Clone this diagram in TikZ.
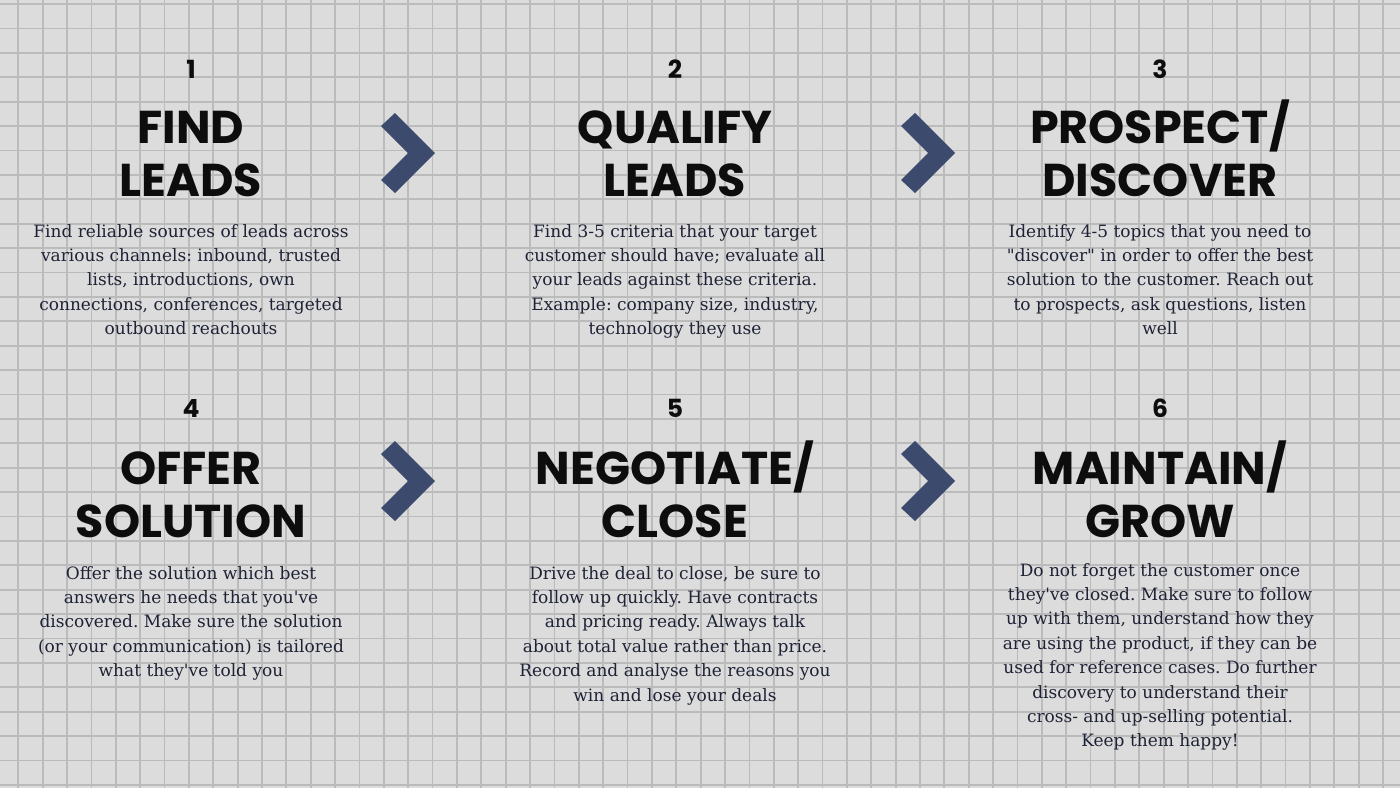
\documentclass[tikz,border=0pt]{standalone}
\usepackage{fontspec}
\setmainfont{DejaVu Serif}[Ligatures=TeXOff]
\newfontfamily\titlefont{Poppins}
\definecolor{bgcol}{HTML}{DCDCDC}
\definecolor{gridcol}{HTML}{BBBBBB}
\definecolor{chevcol}{HTML}{3C4A6E}
\definecolor{titlecol}{HTML}{0D0D0D}
\definecolor{bodycol}{HTML}{1E2235}
\frenchspacing
\begin{document}
\begin{tikzpicture}[x=1pt,y=-1pt,
  gridline/.style={draw=gridcol,line width=1.8pt},
  num/.style={font=\titlefont\bfseries\fontsize{25}{25}\selectfont,text=titlecol,anchor=base,inner sep=0pt},
  ttl/.style={font=\titlefont\bfseries\fontsize{46}{53}\selectfont,text=titlecol,anchor=base,align=center,inner sep=0pt},
  body/.style={font=\frenchspacing\fontsize{17}{24.4}\selectfont,text=bodycol,anchor=base,align=center,inner sep=0pt},
  chev/.style={fill=chevcol}]
\useasboundingbox (0,0) rectangle (1400,788);
\fill[bgcol] (0,0) rectangle (1400,788);
\foreach \i in {0,...,56} \draw[gridline] ({18.3+24.37*\i},0) -- ({18.3+24.37*\i},788);
\foreach \j in {0,...,32} \draw[gridline] (0,{4+24.4*\j}) -- (1400,{4+24.4*\j});
% chevrons
\foreach \cx/\cy in {435/153, 955/153, 435/481, 955/481}
  \fill[chev] (\cx,\cy) -- ++(-40,40) -- ++(-14,-13) -- ++(27,-27) -- ++(-27,-27) -- ++(14,-13) -- cycle;
% row 1 (anchor base = baseline of last line)
\node[num] (n1) at (191,78) {1};
\node[ttl] (t1) at (191,196) {FIND\\LEADS};
\node[body] (b1) at (191,334.6) {Find reliable sources of leads across\\various channels: inbound, trusted\\lists, introductions, own\\connections, conferences, targeted\\outbound reachouts};
\node[num] (n2) at (675,78) {2};
\node[ttl] (t2) at (675,196) {QUALIFY\\LEADS};
\node[body] (b2) at (675,334.6) {Find 3-5 criteria that your target\\customer should have; evaluate all\\your leads against these criteria.\\Example: company size, industry,\\technology they use};
\node[num] (n3) at (1160,78) {3};
\node[ttl] (t3) at (1160,196) {PROSPECT/\\DISCOVER};
\node[body] (b3) at (1160,334.6) {Identify 4-5 topics that you need to\\"discover" in order to offer the best\\solution to the customer. Reach out\\to prospects, ask questions, listen\\well};
% row 2
\node[num] (n4) at (191,417) {4};
\node[ttl] (t4) at (191,537) {OFFER\\SOLUTION};
\node[body] (b4) at (191,676.6) {Offer the solution which best\\answers he needs that you've\\discovered. Make sure the solution\\(or your communication) is tailored\\what they've told you};
\node[num] (n5) at (675,417) {5};
\node[ttl] (t5) at (675,537) {NEGOTIATE/\\CLOSE};
\node[body] (b5) at (675,701) {Drive the deal to close, be sure to\\follow up quickly. Have contracts\\and pricing ready. Always talk\\about total value rather than price.\\Record and analyse the reasons you\\win and lose your deals};
\node[num] (n6) at (1160,417) {6};
\node[ttl] (t6) at (1160,537) {MAINTAIN/\\GROW};
\node[body] (b6) at (1160,746.8) {Do not forget the customer once\\they've closed. Make sure to follow\\up with them, understand how they\\are using the product, if they can be\\used for reference cases. Do further\\discovery to understand their\\cross- and up-selling potential.\\Keep them happy!};
\end{tikzpicture}
\end{document}
